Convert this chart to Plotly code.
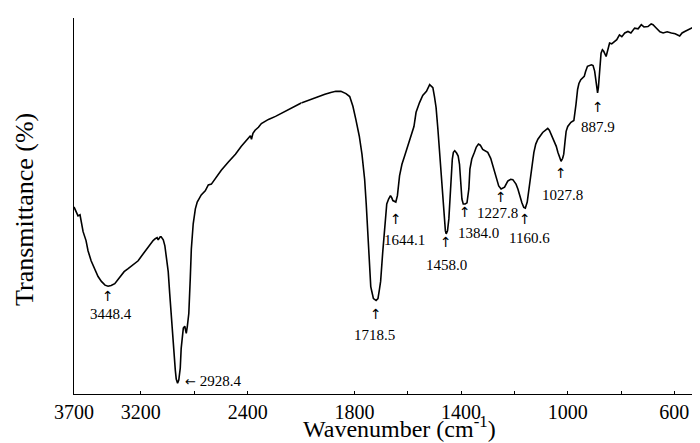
import plotly.graph_objects as go

# ---- data ----
wavenumber = [3700, 3685, 3670, 3655, 3640, 3632, 3610, 3595, 3572, 3545, 3520, 3495, 3468, 3445,
              3422, 3395, 3370, 3348, 3325, 3295, 3258, 3220, 3182, 3145, 3108, 3092, 3078, 3070,
              3055, 3048, 3032, 3020, 3010, 2995, 2984, 2972, 2961, 2950, 2942, 2935, 2925, 2916,
              2905, 2898, 2890, 2882, 2871, 2860, 2852, 2841, 2830, 2822, 2808, 2792, 2778, 2748,
              2718, 2695, 2672, 2635, 2598, 2545, 2492, 2448, 2395, 2380, 2372, 2361, 2345, 2320,
              2298, 2245, 2192, 2132, 2072, 2020, 2000,
              1975, 1945, 1911, 1889, 1870, 1851, 1832, 1818, 1806, 1795, 1782, 1772, 1762, 1756,
              1750, 1744, 1739, 1735, 1729, 1719, 1712, 1707, 1702, 1694, 1684, 1679, 1672, 1665,
              1660, 1656, 1645, 1639, 1631, 1622, 1612, 1600, 1587, 1581, 1577, 1569, 1562, 1556,
              1544, 1530, 1518, 1512, 1506, 1500, 1494, 1487, 1481, 1474, 1469, 1463, 1459, 1456,
              1451, 1446, 1441, 1437, 1433, 1429, 1424, 1417, 1411, 1406, 1401, 1397, 1392, 1385,
              1378, 1371, 1367, 1360, 1350, 1343, 1335, 1328, 1319, 1300, 1289, 1281, 1274, 1265,
              1259, 1250, 1237, 1225, 1214, 1206, 1194, 1187, 1181, 1172, 1165, 1159, 1152, 1146,
              1140, 1135, 1127, 1120, 1112, 1094, 1082, 1075, 1069, 1062, 1050, 1043, 1037, 1030,
              1025, 1019, 1015, 1010, 1006, 1000, 994, 988, 977, 972, 969, 963, 958, 951, 938, 933,
              926, 911, 905, 899, 894, 888, 885, 882, 875, 870, 865, 856, 850, 843, 835, 825, 816,
              806, 797, 786, 774, 763, 749, 736, 724, 714, 699, 687, 680, 669, 661, 654, 642, 627,
              611, 597, 580, 571, 561, 548, 536, 526, 517, 509, 500]
transmittance = [50.0, 48.7, 47.6, 47.9, 45.5, 43.4, 41.0, 38.3, 35.6, 33.5, 31.4, 30.1, 29.1, 28.8,
                 29.0, 29.5, 30.6, 31.6, 32.7, 33.5, 34.6, 35.6, 37.5, 39.4, 41.0, 41.5, 41.8, 41.2,
                 42.0, 42.0, 41.2, 39.6, 37.0, 32.7, 26.9, 20.2, 14.9, 10.4, 6.4, 4.0, 2.9, 3.7,
                 6.9, 12.2, 15.4, 17.6, 18.1, 16.2, 18.1, 21.5, 30.9, 38.8, 45.5, 49.5, 51.3, 53.2,
                 54.3, 55.9, 56.1, 58.0, 59.8, 62.0, 64.1, 66.2, 68.6, 69.0, 68.1, 69.7, 70.5, 71.3,
                 72.3, 73.4, 74.2, 75.3, 76.3, 77.4, 77.8,
                 78.5, 79.3, 80.1, 80.6, 80.9, 80.9, 80.3, 79.5, 76.9, 73.4, 68.9, 64.1, 57.4, 50.8,
                 42.3, 33.5, 28.7, 27.4, 25.5, 25.0, 25.5, 27.7, 30.1, 38.0, 47.6, 50.8, 52.1, 53.0,
                 52.4, 51.7, 51.3, 53.0, 58.3, 61.4, 63.6, 66.2, 69.0, 70.2, 71.5, 75.3, 76.9, 77.9,
                 79.8, 80.9, 82.7, 82.4, 81.9, 79.5, 76.6, 70.7, 64.6, 57.4, 51.3, 46.0, 43.6, 42.8,
                 43.6, 46.8, 53.5, 57.4, 62.8, 64.6, 65.0, 64.4, 63.6, 61.4, 57.4, 52.1, 50.8, 50.8,
                 51.1, 54.8, 60.1, 62.8, 64.6, 66.0, 66.8, 66.5, 65.4, 64.6, 63.0, 61.0, 59.0, 57.0,
                 55.6, 54.8, 55.3, 56.9, 57.4, 57.3, 56.1, 54.8, 53.0, 51.1, 49.9, 49.7, 51.3, 54.8,
                 58.3, 61.4, 64.6, 66.8, 68.1, 69.9, 70.5, 71.0, 70.5, 69.4, 67.6, 66.2, 64.6, 62.8,
                 62.2, 63.0, 64.1, 67.6, 70.2, 71.5, 72.1, 72.6, 73.1, 75.3, 77.4, 81.4, 83.0, 84.0, 84.9, 86.2,
                 87.6, 88.0, 87.8, 86.3, 84.0, 80.5, 81.9, 85.6, 91.1, 92.0, 91.6, 90.2, 92.0, 93.8,
                 93.6, 94.2, 94.7, 96.0, 95.5, 96.5, 96.9, 96.5, 97.8, 97.6, 98.7, 98.1, 98.2, 98.9,
                 98.7, 97.9, 97.3, 96.8, 96.5, 96.8, 96.5, 96.3, 95.7, 96.5, 96.9, 97.3, 97.8, 98.1,
                 98.7, 99.5, 100.0]

peak_labels = ["3448.4", "2928.4", "1718.5", "1644.1", "1458.0", "1384.0",
               "1227.8", "1160.6", "1027.8", "887.9"]

tick_high = [3700, 3200, 2400]
minor_high = [2800]
tick_low = [1800, 1400, 1000, 600]
minor_low = [2000, 1600, 1200, 800]

# ---- annotation placement (arrow x, arrow y, label x, label y) ----
placement = {
    "3448.4": (3445, 26.3, 3426, 21.3),
    "1718.5": (1720, 21.5, 1724, 15.7),
    "1644.1": (1645, 46.8, 1611, 41.2),
    "1458.0": (1457, 40.7, 1454, 34.6),
    "1384.0": (1386, 48.7, 1334, 43.1),
    "1227.8": (1251, 52.7, 1262, 48.4),
    "1160.6": (1161, 46.8, 1142, 41.8),
    "1027.8": (1026, 59.0, 1019, 53.2),
    "887.9": (887, 76.6, 887, 71.3),
}
SPLIT = 2000
FONT = "Liberation Serif"
ARROW_FONT = "DejaVu Sans"

hi = [(w, t) for w, t in zip(wavenumber, transmittance) if w >= SPLIT]
lo = [(w, t) for w, t in zip(wavenumber, transmittance) if w <= SPLIT]

fig = go.Figure()
line = dict(color="black", width=1.6)
fig.add_trace(go.Scatter(x=[p[0] for p in hi], y=[p[1] for p in hi], mode="lines",
                         line=line, xaxis="x", yaxis="y", showlegend=False))
fig.add_trace(go.Scatter(x=[p[0] for p in lo], y=[p[1] for p in lo], mode="lines",
                         line=line, xaxis="x2", yaxis="y", showlegend=False))

ann = []
def ref(w):
    return "x" if w > SPLIT else "x2"

for lab in peak_labels:
    if lab == "2928.4":
        ann.append(dict(x=2885, y=3.5, xref="x", yref="y",
                        text='<span style="font-family:DejaVu Sans;font-size:13px">\u2190</span> ' + lab,
                        showarrow=False, xanchor="left", yanchor="middle",
                        font=dict(family=FONT, size=15, color="black")))
        continue
    ax_, ay_, lx, ly = placement[lab]
    ann.append(dict(x=ax_, y=ay_, xref=ref(ax_), yref="y", text="\u2191",
                    showarrow=False, xanchor="center", yanchor="middle",
                    font=dict(family=ARROW_FONT, size=14, color="black")))
    ann.append(dict(x=lx, y=ly, xref=ref(lx), yref="y", text=lab,
                    showarrow=False, xanchor="center", yanchor="middle",
                    font=dict(family=FONT, size=15, color="black")))

split_frac = 227.3 / 627.3
axis_common = dict(showline=True, linecolor="black", linewidth=1.2, ticks="inside",
                   ticklen=3, tickcolor="black", tickwidth=1, showgrid=False,
                   zeroline=False, tickfont=dict(family=FONT, size=20, color="black"),
                   anchor="y", tickmode="array")
minor_common = dict(ticks="inside", ticklen=3, tickcolor="black", tickwidth=1,
                    showgrid=False, tickmode="array")

fig.update_layout(
    width=700, height=443,
    margin=dict(l=66, r=7, t=10, b=57),
    plot_bgcolor="white", paper_bgcolor="white",
    xaxis=dict(domain=[0, split_frac], range=[3700, 2000], tickvals=tick_high,
               ticktext=[str(v) for v in tick_high],
               minor=dict(tickvals=minor_high, **minor_common), **axis_common),
    xaxis2=dict(domain=[split_frac, 1], range=[2000, 500], tickvals=tick_low,
                ticktext=[str(v) for v in tick_low],
                minor=dict(tickvals=minor_low, **minor_common), **axis_common),
    yaxis=dict(range=[0, 100.5], showline=True, linecolor="black", linewidth=1.2,
               showticklabels=False, ticks="", showgrid=False, zeroline=False),
    annotations=ann + [
        dict(x=0.5, y=0, xref="paper", yref="paper", yshift=-50, xshift=12,
             text="Wavenumber (cm<sup>-1</sup>)", showarrow=False, yanchor="bottom",
             font=dict(family=FONT, size=24, color="black")),
        dict(x=0, y=0.5, xref="paper", yref="paper", xshift=-50, yshift=-4,
             text="Transmittance (%)", showarrow=False, textangle=-90,
             xanchor="center", yanchor="middle",
             font=dict(family=FONT, size=26, color="black")),
    ],
)

fig.write_html("out.html")
